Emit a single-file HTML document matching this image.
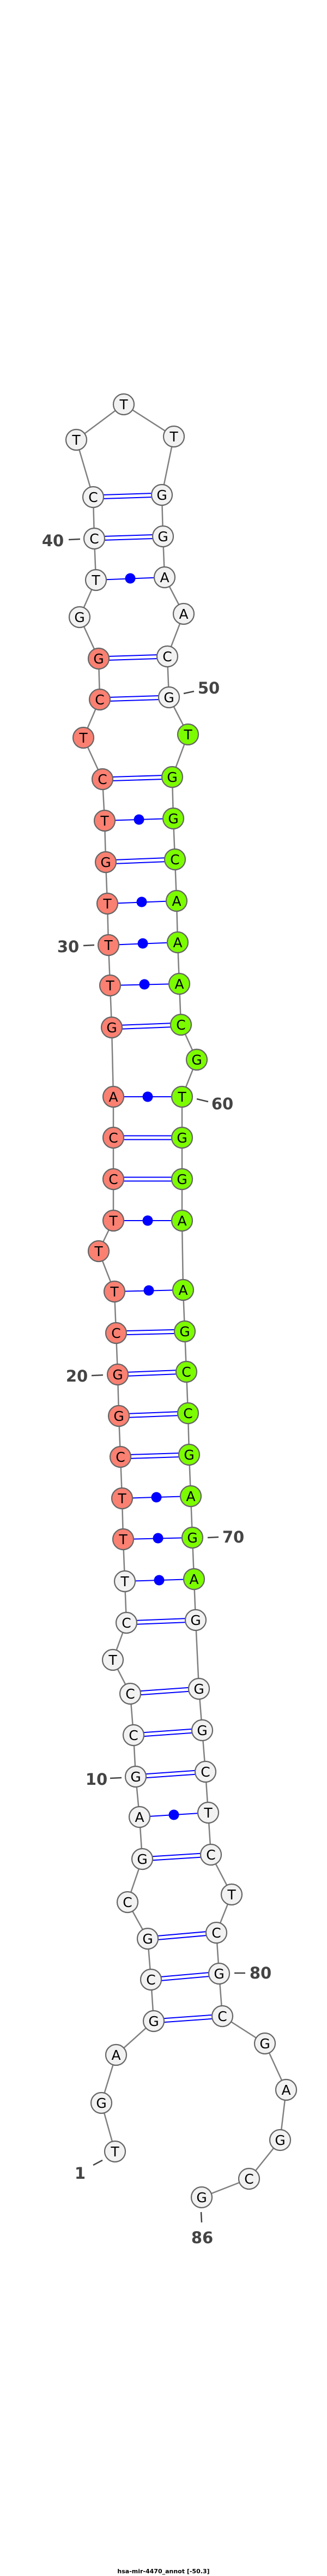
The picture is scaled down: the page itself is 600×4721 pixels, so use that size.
<!DOCTYPE html>
<html><head><meta charset="utf-8"><style>
html,body{margin:0;padding:0;background:#fff}
svg{display:block}
.bb{fill:none;stroke:#808080;stroke-width:2.5}
.p{stroke:#0000ff;stroke-width:2}
.dot{fill:#0000ff}
circle.n{stroke:#666;stroke-width:2.2}
.g{fill:#f2f2f2}.r{fill:#fa8072}.v{fill:#7cfc00}
.t text,text.b{font-family:"DejaVu Sans","Liberation Sans",sans-serif;font-size:25px;text-anchor:middle;fill:#000}
.lab{font-family:"DejaVu Sans","Liberation Sans",sans-serif;font-weight:bold;font-size:29px;fill:#444;text-anchor:middle}
.tk{stroke:#444;stroke-width:2.5}
</style></head><body>
<svg width="600" height="4721" viewBox="0 0 600 4721" xmlns="http://www.w3.org/2000/svg">
<polyline class="bb" points="211,3943 186,3854 213,3766 282,3704 277,3628 271,3553 234,3486 261,3407 256,3330 249,3256 245,3180 239,3104 207,3042 232,2974 229,2898 226,2821 224,2746 221,2670 218,2595 216,2519 213,2443 210,2367 181,2293 208,2237 208,2161 208,2085 208,2010 205,1883 202,1806 199,1732 197,1656 194,1580 192,1504 188,1428 153,1352 183,1282 181,1207 146,1131 176,1063 173,987 171,911 140,806 227,741 319,800 297,907 299,983 302,1058 337,1125 307,1203 310,1278 345,1346 316,1424 318,1500 321,1575 324,1651 326,1727 329,1803 332,1878 361,1942 334,2010 334,2085 334,2161 334,2237 336,2364 339,2440 342,2514 345,2590 347,2666 350,2742 353,2818 356,2894 359,2969 365,3095 371,3171 377,3247 382,3322 387,3399 425,3472 397,3542 402,3617 408,3695 486,3745 525,3830 514,3922 457,3993 370,4027"/>
<g class="p">
<!-- double (GC) pairs -->
<line x1="171" y1="907.5" x2="297" y2="903.5"/><line x1="171" y1="914.5" x2="297" y2="910.5"/>
<line x1="173" y1="983.5" x2="299" y2="979.5"/><line x1="173" y1="990.5" x2="299" y2="986.5"/>
<line x1="181" y1="1203.5" x2="307" y2="1199.5"/><line x1="181" y1="1210.5" x2="307" y2="1206.5"/>
<line x1="183" y1="1278.5" x2="310" y2="1274.5"/><line x1="183" y1="1285.5" x2="310" y2="1281.5"/>
<line x1="188" y1="1424.5" x2="316" y2="1420.5"/><line x1="188" y1="1431.5" x2="316" y2="1427.5"/>
<line x1="194" y1="1576.5" x2="321" y2="1571.5"/><line x1="194" y1="1583.5" x2="321" y2="1578.5"/>
<line x1="205" y1="1879.5" x2="332" y2="1874.5"/><line x1="205" y1="1886.5" x2="332" y2="1881.5"/>
<line x1="208" y1="2081.5" x2="334" y2="2081.5"/><line x1="208" y1="2088.5" x2="334" y2="2088.5"/>
<line x1="208" y1="2157.5" x2="334" y2="2157.5"/><line x1="208" y1="2164.5" x2="334" y2="2164.5"/>
<line x1="213" y1="2439.5" x2="339" y2="2436.5"/><line x1="213" y1="2446.5" x2="339" y2="2443.5"/>
<line x1="216" y1="2515.5" x2="342" y2="2510.5"/><line x1="216" y1="2522.5" x2="342" y2="2517.5"/>
<line x1="218" y1="2591.5" x2="345" y2="2586.5"/><line x1="218" y1="2598.5" x2="345" y2="2593.5"/>
<line x1="221" y1="2666.5" x2="347" y2="2662.5"/><line x1="221" y1="2673.5" x2="347" y2="2669.5"/>
<line x1="232" y1="2970.5" x2="359" y2="2965.5"/><line x1="232" y1="2977.5" x2="359" y2="2972.5"/>
<line x1="239" y1="3100.5" x2="365" y2="3091.5"/><line x1="239" y1="3107.5" x2="365" y2="3098.5"/>
<line x1="245" y1="3176.5" x2="371" y2="3167.5"/><line x1="245" y1="3183.5" x2="371" y2="3174.5"/>
<line x1="249" y1="3252.5" x2="377" y2="3243.5"/><line x1="249" y1="3259.5" x2="377" y2="3250.5"/>
<line x1="261" y1="3403.5" x2="387" y2="3395.5"/><line x1="261" y1="3410.5" x2="387" y2="3402.5"/>
<line x1="271" y1="3549.5" x2="397" y2="3538.5"/><line x1="271" y1="3556.5" x2="397" y2="3545.5"/>
<line x1="277" y1="3624.5" x2="402" y2="3613.5"/><line x1="277" y1="3631.5" x2="402" y2="3620.5"/>
<line x1="282" y1="3700.5" x2="408" y2="3691.5"/><line x1="282" y1="3707.5" x2="408" y2="3698.5"/>
<!-- single (AT) pairs -->
<line x1="176" y1="1063" x2="302" y2="1058"/>
<line x1="192" y1="1504" x2="318" y2="1500"/>
<line x1="197" y1="1656" x2="324" y2="1651"/>
<line x1="199" y1="1732" x2="326" y2="1727"/>
<line x1="202" y1="1806" x2="329" y2="1803"/>
<line x1="208" y1="2010" x2="334" y2="2010"/>
<line x1="208" y1="2237" x2="334" y2="2237"/>
<line x1="210" y1="2367" x2="336" y2="2364"/>
<line x1="224" y1="2746" x2="350" y2="2742"/>
<line x1="226" y1="2821" x2="353" y2="2818"/>
<line x1="229" y1="2898" x2="356" y2="2894"/>
<line x1="256" y1="3330" x2="382" y2="3322"/>
</g>
<g class="dot">
<circle cx="239" cy="1060" r="9.5"/><circle cx="255" cy="1502" r="9.5"/><circle cx="260" cy="1653" r="9.5"/>
<circle cx="262" cy="1729" r="9.5"/><circle cx="265" cy="1804" r="9.5"/><circle cx="271" cy="2010" r="9.5"/>
<circle cx="271" cy="2237" r="9.5"/><circle cx="273" cy="2365" r="9.5"/><circle cx="287" cy="2744" r="9.5"/>
<circle cx="290" cy="2819" r="9.5"/><circle cx="292" cy="2896" r="9.5"/><circle cx="319" cy="3326" r="9.5"/>
</g>
<g class="t">
<circle class="n g" cx="211" cy="3943" r="19"/><text x="211" y="3952">T</text>
<circle class="n g" cx="186" cy="3854" r="19"/><text x="186" y="3863">G</text>
<circle class="n g" cx="213" cy="3766" r="19"/><text x="213" y="3775">A</text>
<circle class="n g" cx="282" cy="3704" r="19"/><text x="282" y="3713">G</text>
<circle class="n g" cx="277" cy="3628" r="19"/><text x="277" y="3637">C</text>
<circle class="n g" cx="271" cy="3553" r="19"/><text x="271" y="3562">G</text>
<circle class="n g" cx="234" cy="3486" r="19"/><text x="234" y="3495">C</text>
<circle class="n g" cx="261" cy="3407" r="19"/><text x="261" y="3416">G</text>
<circle class="n g" cx="256" cy="3330" r="19"/><text x="256" y="3339">A</text>
<circle class="n g" cx="249" cy="3256" r="19"/><text x="249" y="3265">G</text>
<circle class="n g" cx="245" cy="3180" r="19"/><text x="245" y="3189">C</text>
<circle class="n g" cx="239" cy="3104" r="19"/><text x="239" y="3113">C</text>
<circle class="n g" cx="207" cy="3042" r="19"/><text x="207" y="3051">T</text>
<circle class="n g" cx="232" cy="2974" r="19"/><text x="232" y="2983">C</text>
<circle class="n g" cx="229" cy="2898" r="19"/><text x="229" y="2907">T</text>
<circle class="n r" cx="226" cy="2821" r="19"/><text x="226" y="2830">T</text>
<circle class="n r" cx="224" cy="2746" r="19"/><text x="224" y="2755">T</text>
<circle class="n r" cx="221" cy="2670" r="19"/><text x="221" y="2679">C</text>
<circle class="n r" cx="218" cy="2595" r="19"/><text x="218" y="2604">G</text>
<circle class="n r" cx="216" cy="2519" r="19"/><text x="216" y="2528">G</text>
<circle class="n r" cx="213" cy="2443" r="19"/><text x="213" y="2452">C</text>
<circle class="n r" cx="210" cy="2367" r="19"/><text x="210" y="2376">T</text>
<circle class="n r" cx="181" cy="2293" r="19"/><text x="181" y="2302">T</text>
<circle class="n r" cx="208" cy="2237" r="19"/><text x="208" y="2246">T</text>
<circle class="n r" cx="208" cy="2161" r="19"/><text x="208" y="2170">C</text>
<circle class="n r" cx="208" cy="2085" r="19"/><text x="208" y="2094">C</text>
<circle class="n r" cx="208" cy="2010" r="19"/><text x="208" y="2019">A</text>
<circle class="n r" cx="205" cy="1883" r="19"/><text x="205" y="1892">G</text>
<circle class="n r" cx="202" cy="1806" r="19"/><text x="202" y="1815">T</text>
<circle class="n r" cx="199" cy="1732" r="19"/><text x="199" y="1741">T</text>
<circle class="n r" cx="197" cy="1656" r="19"/><text x="197" y="1665">T</text>
<circle class="n r" cx="194" cy="1580" r="19"/><text x="194" y="1589">G</text>
<circle class="n r" cx="192" cy="1504" r="19"/><text x="192" y="1513">T</text>
<circle class="n r" cx="188" cy="1428" r="19"/><text x="188" y="1437">C</text>
<circle class="n r" cx="153" cy="1352" r="19"/><text x="153" y="1361">T</text>
<circle class="n r" cx="183" cy="1282" r="19"/><text x="183" y="1291">C</text>
<circle class="n r" cx="181" cy="1207" r="19"/><text x="181" y="1216">G</text>
<circle class="n g" cx="146" cy="1131" r="19"/><text x="146" y="1140">G</text>
<circle class="n g" cx="176" cy="1063" r="19"/><text x="176" y="1072">T</text>
<circle class="n g" cx="173" cy="987" r="19"/><text x="173" y="996">C</text>
<circle class="n g" cx="171" cy="911" r="19"/><text x="171" y="920">C</text>
<circle class="n g" cx="140" cy="806" r="19"/><text x="140" y="815">T</text>
<circle class="n g" cx="227" cy="741" r="19"/><text x="227" y="750">T</text>
<circle class="n g" cx="319" cy="800" r="19"/><text x="319" y="809">T</text>
<circle class="n g" cx="297" cy="907" r="19"/><text x="297" y="916">G</text>
<circle class="n g" cx="299" cy="983" r="19"/><text x="299" y="992">G</text>
<circle class="n g" cx="302" cy="1058" r="19"/><text x="302" y="1067">A</text>
<circle class="n g" cx="337" cy="1125" r="19"/><text x="337" y="1134">A</text>
<circle class="n g" cx="307" cy="1203" r="19"/><text x="307" y="1212">C</text>
<circle class="n g" cx="310" cy="1278" r="19"/><text x="310" y="1287">G</text>
<circle class="n v" cx="345" cy="1346" r="19"/><text x="345" y="1355">T</text>
<circle class="n v" cx="316" cy="1424" r="19"/><text x="316" y="1433">G</text>
<circle class="n v" cx="318" cy="1500" r="19"/><text x="318" y="1509">G</text>
<circle class="n v" cx="321" cy="1575" r="19"/><text x="321" y="1584">C</text>
<circle class="n v" cx="324" cy="1651" r="19"/><text x="324" y="1660">A</text>
<circle class="n v" cx="326" cy="1727" r="19"/><text x="326" y="1736">A</text>
<circle class="n v" cx="329" cy="1803" r="19"/><text x="329" y="1812">A</text>
<circle class="n v" cx="332" cy="1878" r="19"/><text x="332" y="1887">C</text>
<circle class="n v" cx="361" cy="1942" r="19"/><text x="361" y="1951">G</text>
<circle class="n v" cx="334" cy="2010" r="19"/><text x="334" y="2019">T</text>
<circle class="n v" cx="334" cy="2085" r="19"/><text x="334" y="2094">G</text>
<circle class="n v" cx="334" cy="2161" r="19"/><text x="334" y="2170">G</text>
<circle class="n v" cx="334" cy="2237" r="19"/><text x="334" y="2246">A</text>
<circle class="n v" cx="336" cy="2364" r="19"/><text x="336" y="2373">A</text>
<circle class="n v" cx="339" cy="2440" r="19"/><text x="339" y="2449">G</text>
<circle class="n v" cx="342" cy="2514" r="19"/><text x="342" y="2523">C</text>
<circle class="n v" cx="345" cy="2590" r="19"/><text x="345" y="2599">C</text>
<circle class="n v" cx="347" cy="2666" r="19"/><text x="347" y="2675">G</text>
<circle class="n v" cx="350" cy="2742" r="19"/><text x="350" y="2751">A</text>
<circle class="n v" cx="353" cy="2818" r="19"/><text x="353" y="2827">G</text>
<circle class="n v" cx="356" cy="2894" r="19"/><text x="356" y="2903">A</text>
<circle class="n g" cx="359" cy="2969" r="19"/><text x="359" y="2978">G</text>
<circle class="n g" cx="365" cy="3095" r="19"/><text x="365" y="3104">G</text>
<circle class="n g" cx="371" cy="3171" r="19"/><text x="371" y="3180">G</text>
<circle class="n g" cx="377" cy="3247" r="19"/><text x="377" y="3256">C</text>
<circle class="n g" cx="382" cy="3322" r="19"/><text x="382" y="3331">T</text>
<circle class="n g" cx="387" cy="3399" r="19"/><text x="387" y="3408">C</text>
<circle class="n g" cx="425" cy="3472" r="19"/><text x="425" y="3481">T</text>
<circle class="n g" cx="397" cy="3542" r="19"/><text x="397" y="3551">C</text>
<circle class="n g" cx="402" cy="3617" r="19"/><text x="402" y="3626">G</text>
<circle class="n g" cx="408" cy="3695" r="19"/><text x="408" y="3704">C</text>
<circle class="n g" cx="486" cy="3745" r="19"/><text x="486" y="3754">G</text>
<circle class="n g" cx="525" cy="3830" r="19"/><text x="525" y="3839">A</text>
<circle class="n g" cx="514" cy="3922" r="19"/><text x="514" y="3931">G</text>
<circle class="n g" cx="457" cy="3993" r="19"/><text x="457" y="4002">C</text>
<circle class="n g" cx="370" cy="4027" r="19"/><text x="370" y="4036">G</text>
</g>
<!-- position labels -->
<line class="tk" x1="126" y1="989" x2="147" y2="988"/><text class="lab" x="97" y="1001">40</text>
<line class="tk" x1="337" y1="1271" x2="356" y2="1267"/><text class="lab" x="383" y="1271">50</text>
<line class="tk" x1="153" y1="1733" x2="173" y2="1732"/><text class="lab" x="125" y="1745">30</text>
<line class="tk" x1="361" y1="2014" x2="382" y2="2019"/><text class="lab" x="408" y="2033">60</text>
<line class="tk" x1="168" y1="2521" x2="189" y2="2520"/><text class="lab" x="141" y="2532">20</text>
<line class="tk" x1="381" y1="2818" x2="401" y2="2817"/><text class="lab" x="428" y="2827">70</text>
<line class="tk" x1="202" y1="3259" x2="223" y2="3258"/><text class="lab" x="177" y="3271">10</text>
<line class="tk" x1="430" y1="3616" x2="450" y2="3616"/><text class="lab" x="478" y="3626">80</text>
<line class="tk" x1="171" y1="3968" x2="188" y2="3959"/><text class="lab" x="147" y="3993">1</text>
<line class="tk" x1="369" y1="4054" x2="370" y2="4073"/><text class="lab" x="371" y="4111">86</text>
<text x="300" y="4716" text-anchor="middle" font-family="'DejaVu Sans','Liberation Sans',sans-serif" font-weight="bold" font-size="11" fill="#000">hsa-mir-4470_annot [-50.3]</text>
</svg>
</body></html>
